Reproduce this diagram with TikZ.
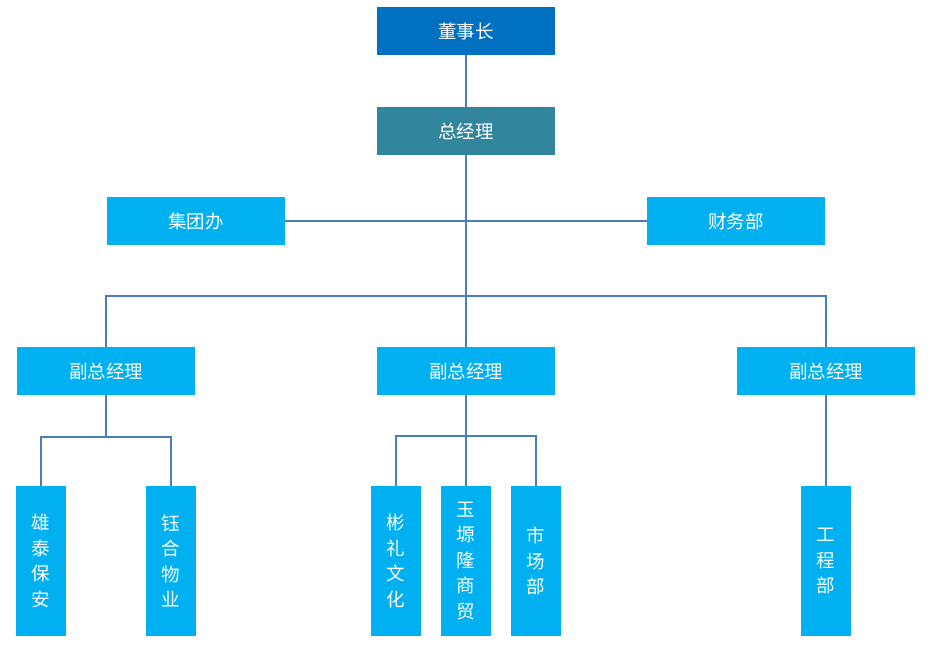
\documentclass[tikz,border=0pt]{standalone}
\usepackage{fontspec}
\setmainfont{Noto Sans CJK SC}
\begin{document}
\begin{tikzpicture}[x=1pt,y=-1pt,
  box/.style={draw=none,fill=#1,text=white,minimum width=178pt,minimum height=48pt,inner sep=0pt,font=\fontsize{18.5}{22}\selectfont},
  vbox/.style={draw=none,fill=cyanbox,text=white,minimum width=50pt,minimum height=150pt,inner sep=0pt,align=center,font=\fontsize{18.5}{25.5}\selectfont},
  link/.style={draw=linkc,line width=2pt}]
\definecolor{topc}{HTML}{0070C0}
\definecolor{gmc}{HTML}{31859C}
\definecolor{cyanbox}{HTML}{00B0F0}
\definecolor{linkc}{HTML}{4A7EBB}
\useasboundingbox (0,0) rectangle (930,650);
\node[box=topc] (ceo) at (466,31) {董事长};
\node[box=gmc] (gm) at (466,131) {总经理};
\node[box=cyanbox] (jtb) at (196,221) {集团办};
\node[box=cyanbox] (cwb) at (736,221) {财务部};
\node[box=cyanbox] (vp1) at (106,371) {副总经理};
\node[box=cyanbox] (vp2) at (466,371) {副总经理};
\node[box=cyanbox] (vp3) at (826,371) {副总经理};
\node[vbox] (a1) at (41,561) {雄\\泰\\保\\安};
\node[vbox] (a2) at (171,561) {钰\\合\\物\\业};
\node[vbox] (b1) at (396,561) {彬\\礼\\文\\化};
\node[vbox] (b2) at (466,561) {玉\\塬\\隆\\商\\贸};
\node[vbox] (b3) at (536,561) {市\\场\\部};
\node[vbox] (c1) at (826,561) {工\\程\\部};
\coordinate (bus) at (466,296);
\draw[link] (ceo) -- (gm);
\draw[link] (gm) -- (bus);
\draw[link] (jtb) -- (cwb);
\draw[link] (vp1.north) |- (bus) -| (vp3.north);
\draw[link] (bus) -- (vp2);
\draw[link] (vp1.south) -- ++(0,42) -| (a1.north);
\draw[link] (vp1.south) ++(0,42) -| (a2.north);
\draw[link] (vp2.south) -- ++(0,41) -| (b1.north);
\draw[link] (vp2.south) ++(0,41) -| (b3.north);
\draw[link] (vp2) -- (b2);
\draw[link] (vp3) -- (c1);
\end{tikzpicture}
\end{document}
